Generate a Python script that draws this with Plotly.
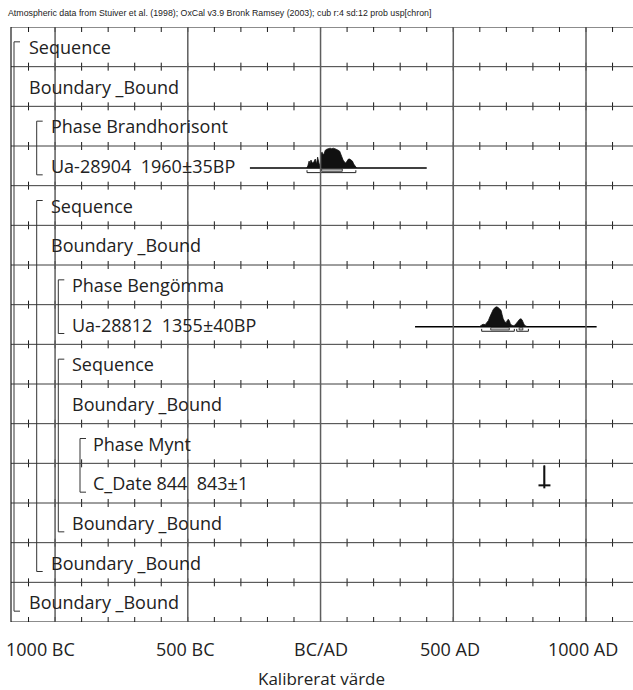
import plotly.graph_objects as go

# ---------------- data ----------------
header = "Atmospheric data from Stuiver et al. (1998); OxCal v3.9 Bronk Ramsey (2003); cub r:4 sd:12 prob usp[chron]"
row_labels = ["Sequence", "Boundary _Bound", "Phase Brandhorisont", "Ua-28904\u00a0 1960±35BP",
              "Sequence", "Boundary _Bound", "Phase Bengömma", "Ua-28812\u00a0 1355±40BP",
              "Sequence", "Boundary _Bound", "Phase Mynt", "C_Date 844\u00a0 843±1",
              "Boundary _Bound", "Boundary _Bound", "Boundary _Bound"]
row_levels = [0, 0, 1, 1, 1, 1, 2, 2, 2, 2, 3, 3, 2, 1, 0]
brackets = [(0, 14, 0), (2, 3, 1), (4, 13, 1), (6, 7, 2), (8, 12, 2), (10, 11, 3)]

tick_vals = [-1000, -500, 0, 500, 1000]
tick_text = ["1000 BC", "500 BC", "BC/AD", "500 AD", "1000 AD"]
minor_ticks = list(range(-1100, 1101, 100))
x_title = "Kalibrerat värde"

# Ua-28904 (row 3)
ua1_row = 3
ua1_years = [-52, -48, -43, -40, -36, -31, -25, -20, -15, -11, -6, -2, 1, 2, 6, 10, 14, 18, 24, 30, 36,
             42, 48, 54, 60, 66, 72, 76, 80, 85, 90, 95, 100, 105, 110, 115, 120, 125, 130, 136]
ua1_prob = [0, 2, 7, 4, 8, 5, 6, 9, 4, 11, 5, 2, 3, 15, 16, 13, 15, 18, 19, 19.5, 20,
            19.5, 20, 19.5, 19, 18, 17, 14, 11, 8, 6, 5, 7, 9, 9, 8, 7, 4, 2, 0]
ua1_extent = [-266, 400]
ua1_sigma1 = [[4, 82]]
ua1_sigma2 = [[-51, 133]]

# Ua-28812 (row 7)
ua2_row = 7
ua2_years = [598, 604, 612, 620, 626, 632, 638, 644, 650, 656, 662, 668, 674, 680, 684, 688, 694, 699,
             703, 707, 711, 715, 720, 726, 732, 738, 744, 750, 755, 759, 763, 767, 772, 778]
ua2_prob = [0, 1.5, 2.5, 2, 4, 6, 10, 14, 17, 19, 20, 19.5, 18, 16.5, 12, 8, 5, 4,
            6, 7.5, 6, 3, 1.5, 1, 1.5, 3, 5.5, 7.5, 8, 7, 4, 2, 1, 0]
ua2_extent = [356, 1040]
ua2_sigma1 = [[641, 711], [748, 762]]
ua2_sigma2 = [[607, 730], [739, 783]]

# C_Date 844 (row 11)
cd_row = 11
cd_years = [842, 843, 844]
cd_prob = [0, 20, 0]
cd_bar = [821, 866]

# ---------------- layout helpers ----------------
W, H = 633, 690
ML, MR, MT, MB = 11, 0, 27, 68
PW, PH = W - ML - MR, H - MT - MB
NROWS = len(row_labels)
X0, X1 = -1166, 1177
ROW_PX = PH / NROWS


def px2paper_x(px):
    return (px - ML) / PW


def px2paper_y(py):
    return (H - MB - py) / PH


bracket_px = [14, 36.7, 58.3, 80]
text_px = [30, 52, 72.5, 94]

BASE_OFF = 0.055      # baseline below row centre (rows)
PEAK = 0.5            # max distribution height (rows)
INK = "#1a1a1a"

fig = go.Figure()
shapes = []
annotations = []

# row lines
for i in range(1, NROWS):
    shapes.append(dict(type="line", xref="paper", yref="y", x0=0, x1=1, y0=i, y1=i,
                       line=dict(color="#3c3c3c", width=1)))
# borders
for yv in (0, NROWS):
    shapes.append(dict(type="line", xref="paper", yref="y", x0=0, x1=1, y0=yv, y1=yv,
                       line=dict(color=INK, width=1.2)))
shapes.append(dict(type="line", xref="paper", yref="y", x0=0, x1=0, y0=0, y1=NROWS,
                   line=dict(color=INK, width=1.2)))
# major verticals
for v in tick_vals:
    shapes.append(dict(type="line", xref="x", yref="y", x0=v, x1=v, y0=0, y1=NROWS,
                       line=dict(color="#5e5e5e", width=1.5)))

# tick marks
tx, ty = [], []
half = 4 / ROW_PX
edge = 5 / ROW_PX
for yr in minor_ticks:
    for i in range(1, NROWS):
        tx += [yr, yr, None]
        ty += [i - half, i + half, None]
    tx += [yr, yr, None, yr, yr, None]
    ty += [0, edge, None, NROWS, NROWS - edge, None]
fig.add_trace(go.Scatter(x=tx, y=ty, mode="lines", line=dict(color=INK, width=1),
                         hoverinfo="skip", showlegend=False))

# brackets
arm = 6 / PW
for r0, r1, lv in brackets:
    bx = px2paper_x(bracket_px[lv])
    top = r0 + 0.5 - 5 / ROW_PX
    bot = r1 + 0.5 + 9 / ROW_PX
    shapes.append(dict(type="path", xref="paper", yref="y",
                       path=f"M {bx+arm},{top} L {bx},{top} L {bx},{bot} L {bx+arm},{bot}",
                       line=dict(color="#333333", width=1)))

# row labels
for i, (lab, lv) in enumerate(zip(row_labels, row_levels)):
    annotations.append(dict(text=lab, xref="paper", yref="y", x=px2paper_x(text_px[lv] - 3),
                            y=i + 0.5, xanchor="left", yanchor="middle", showarrow=False,
                            font=dict(family="Open Sans", size=18, color="#222222")))


def add_dist(row, years, prob, extent=None, s1=None, s2=None):
    base = row + 0.5 + BASE_OFF
    if extent is not None:
        fig.add_trace(go.Scatter(x=extent, y=[base, base], mode="lines",
                                 line=dict(color="black", width=1.6),
                                 hoverinfo="skip", showlegend=False))
    ys = [base - p / 20 * PEAK for p in prob]
    fig.add_trace(go.Scatter(x=years, y=ys, mode="lines", fill="toself", fillcolor="#111111",
                             line=dict(color="#111111", width=0.8),
                             hoverinfo="skip", showlegend=False))
    for a, b in (s1 or []):
        shapes.append(dict(type="rect", xref="x", yref="y", x0=a, x1=b,
                           y0=base + 1 / ROW_PX, y1=base + 3.3 / ROW_PX,
                           fillcolor="#d0d0d0", line=dict(color="#222222", width=0.8)))
    for a, b in (s2 or []):
        y2 = base + 4.6 / ROW_PX
        yt = base + 2.2 / ROW_PX
        fig.add_trace(go.Scatter(x=[a, a, b, b], y=[yt, y2, y2, yt], mode="lines",
                                 line=dict(color="#222222", width=1),
                                 hoverinfo="skip", showlegend=False))


add_dist(ua1_row, ua1_years, ua1_prob, ua1_extent, ua1_sigma1, ua1_sigma2)
add_dist(ua2_row, ua2_years, ua2_prob, ua2_extent, ua2_sigma1, ua2_sigma2)
add_dist(cd_row, cd_years, cd_prob)
cd_base = cd_row + 0.5 + BASE_OFF
fig.add_trace(go.Scatter(x=[cd_years[1], cd_years[1]], y=[cd_base + 3 / ROW_PX, cd_base - PEAK],
                         mode="lines", line=dict(color="#111111", width=2),
                         hoverinfo="skip", showlegend=False))
fig.add_trace(go.Scatter(x=cd_bar, y=[cd_base, cd_base], mode="lines",
                         line=dict(color="#111111", width=2), hoverinfo="skip", showlegend=False))

# header and axis text
annotations.append(dict(text=header, xref="paper", yref="paper", x=px2paper_x(6), y=px2paper_y(13),
                        xanchor="left", yanchor="middle", showarrow=False,
                        font=dict(family="Liberation Sans Narrow, Liberation Sans", size=8.8,
                                  color="#222222")))
label_shift = [-15, -2, 0, -3, -3]
for v, t, sh in zip(tick_vals, tick_text, label_shift):
    annotations.append(dict(text=t, xref="x", yref="paper", x=v, y=px2paper_y(649), xshift=sh,
                            xanchor="center", yanchor="middle", showarrow=False,
                            font=dict(family="Open Sans", size=18, color="#222222")))
annotations.append(dict(text=x_title, xref="paper", yref="paper", x=px2paper_x(321), y=px2paper_y(678),
                        xanchor="center", yanchor="middle", showarrow=False,
                        font=dict(family="Open Sans", size=17, color="#222222")))

fig.update_layout(
    width=W, height=H, margin=dict(l=ML, r=MR, t=MT, b=MB, pad=0),
    paper_bgcolor="white", plot_bgcolor="white",
    xaxis=dict(range=[X0, X1], showgrid=False, zeroline=False, showticklabels=False,
               ticks="", showline=False, fixedrange=True),
    yaxis=dict(range=[NROWS, 0], showgrid=False, zeroline=False, showticklabels=False,
               ticks="", showline=False, fixedrange=True),
    shapes=shapes, annotations=annotations, showlegend=False,
)
fig.write_html("out.html", config={"displayModeBar": False},
               post_script="document.body.style.margin='0';document.body.style.overflow='hidden';")
